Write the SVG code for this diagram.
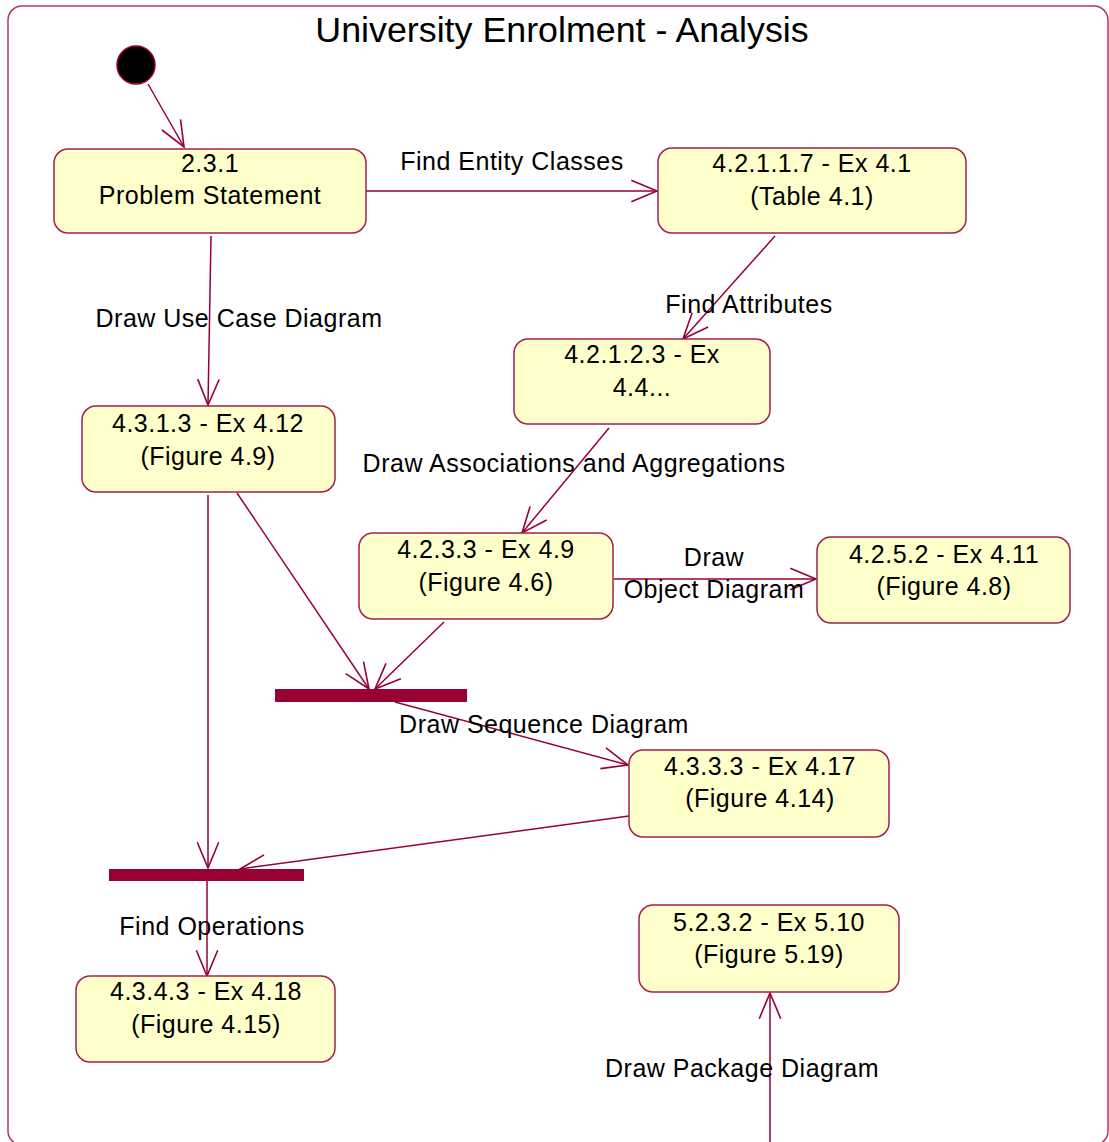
<svg xmlns="http://www.w3.org/2000/svg" width="1109" height="1142" viewBox="0 0 1109 1142">
  <style>
    .frame { fill: #ffffff; stroke: #b8336a; stroke-width: 1.5; }
    .state rect { fill: #ffffcc; stroke: #a3204f; stroke-width: 1.5; }
    .state text, .lbl { font-family: "Liberation Sans", Arial, sans-serif; font-size: 25px; letter-spacing: 0.5px; fill: #000000; text-anchor: middle; }
    .title { font-family: "Liberation Sans", Arial, sans-serif; font-size: 35.8px; fill: #000000; text-anchor: middle; }
    .edge { fill: none; stroke: #990033; stroke-width: 1.5; marker-end: url(#open); }
    .bar { fill: #990033; }
  </style>
  <defs>
    <marker id="open" markerUnits="userSpaceOnUse" markerWidth="30" markerHeight="30" viewBox="-26 -13 28 26" refX="0" refY="0" orient="auto">
      <path d="M-24,-10 L0,0 L-24,10" fill="none" stroke="#990033" stroke-width="1.5"/>
    </marker>
  </defs>

  <!-- diagram frame and title -->
  <rect class="frame" x="8" y="6" width="1100" height="1139" rx="14"/>
  <text class="title" x="562" y="42">University Enrolment - Analysis</text>

  <!-- transitions -->
  <g id="connectors">
    <line class="edge" x1="148" y1="84" x2="184" y2="147"/>
    <line class="edge" x1="366" y1="191" x2="657" y2="191"/>
    <line class="edge" x1="775" y1="236" x2="683" y2="339"/>
    <line class="edge" x1="211" y1="236" x2="208" y2="405"/>
    <line class="edge" x1="609" y1="428" x2="522" y2="533"/>
    <line class="edge" x1="614" y1="579" x2="816" y2="579"/>
    <line class="edge" x1="237" y1="493" x2="369" y2="689"/>
    <line class="edge" x1="444" y1="622" x2="375" y2="689"/>
    <line class="edge" x1="208" y1="495" x2="208" y2="868"/>
    <line class="edge" x1="395" y1="702" x2="628" y2="765"/>
    <line class="edge" x1="629" y1="816" x2="240" y2="869"/>
    <line class="edge" x1="207" y1="881" x2="207" y2="976"/>
    <line class="edge" x1="770" y1="1142" x2="770" y2="993"/>
  </g>

  <!-- transition labels -->
  <g id="labels">
    <text class="lbl" x="512" y="170">Find Entity Classes</text>
    <text class="lbl" x="749" y="313">Find Attributes</text>
    <text class="lbl" x="239" y="327">Draw Use Case Diagram</text>
    <text class="lbl" x="574" y="472">Draw Associations and Aggregations</text>
    <text class="lbl" x="714" y="566">Draw</text>
    <text class="lbl" x="714" y="598">Object Diagram</text>
    <text class="lbl" x="544" y="733">Draw Sequence Diagram</text>
    <text class="lbl" x="212" y="935">Find Operations</text>
    <text class="lbl" x="742" y="1077">Draw Package Diagram</text>
  </g>

  <!-- initial state -->
  <g id="start">
    <circle cx="136" cy="65" r="19" fill="#000000" stroke="#990033" stroke-width="1.5"/>
  </g>

  <!-- activity states -->
  <g id="problem-statement" class="state">
    <rect x="54" y="149" width="312" height="84" rx="14"/>
    <text x="210" y="172">2.3.1</text>
    <text x="210" y="204">Problem Statement</text>
  </g>
  <g id="ex-4-1" class="state">
    <rect x="658" y="148" width="308" height="85" rx="14"/>
    <text x="812" y="172">4.2.1.1.7 - Ex 4.1</text>
    <text x="812" y="205">(Table 4.1)</text>
  </g>
  <g id="ex-4-4" class="state">
    <rect x="514" y="339" width="256" height="85" rx="14"/>
    <text x="642" y="363">4.2.1.2.3 - Ex</text>
    <text x="642" y="396">4.4...</text>
  </g>
  <g id="ex-4-12" class="state">
    <rect x="82" y="406" width="253" height="86" rx="14"/>
    <text x="208" y="432">4.3.1.3 - Ex 4.12</text>
    <text x="208" y="465">(Figure 4.9)</text>
  </g>
  <g id="ex-4-9" class="state">
    <rect x="359" y="533" width="254" height="86" rx="14"/>
    <text x="486" y="558">4.2.3.3 - Ex 4.9</text>
    <text x="486" y="591">(Figure 4.6)</text>
  </g>
  <g id="ex-4-11" class="state">
    <rect x="817" y="537" width="253" height="86" rx="14"/>
    <text x="944" y="563">4.2.5.2 - Ex 4.11</text>
    <text x="944" y="595">(Figure 4.8)</text>
  </g>
  <g id="sync-1">
    <rect class="bar" x="275" y="689" width="192" height="13"/>
  </g>
  <g id="ex-4-17" class="state">
    <rect x="629" y="750" width="260" height="87" rx="14"/>
    <text x="760" y="775">4.3.3.3 - Ex 4.17</text>
    <text x="760" y="807">(Figure 4.14)</text>
  </g>
  <g id="sync-2">
    <rect class="bar" x="109" y="869" width="195" height="12"/>
  </g>
  <g id="ex-4-18" class="state">
    <rect x="76" y="976" width="259" height="86" rx="14"/>
    <text x="206" y="1000">4.3.4.3 - Ex 4.18</text>
    <text x="206" y="1033">(Figure 4.15)</text>
  </g>
  <g id="ex-5-10" class="state">
    <rect x="639" y="905" width="260" height="87" rx="14"/>
    <text x="769" y="931">5.2.3.2 - Ex 5.10</text>
    <text x="769" y="963">(Figure 5.19)</text>
  </g>
</svg>
